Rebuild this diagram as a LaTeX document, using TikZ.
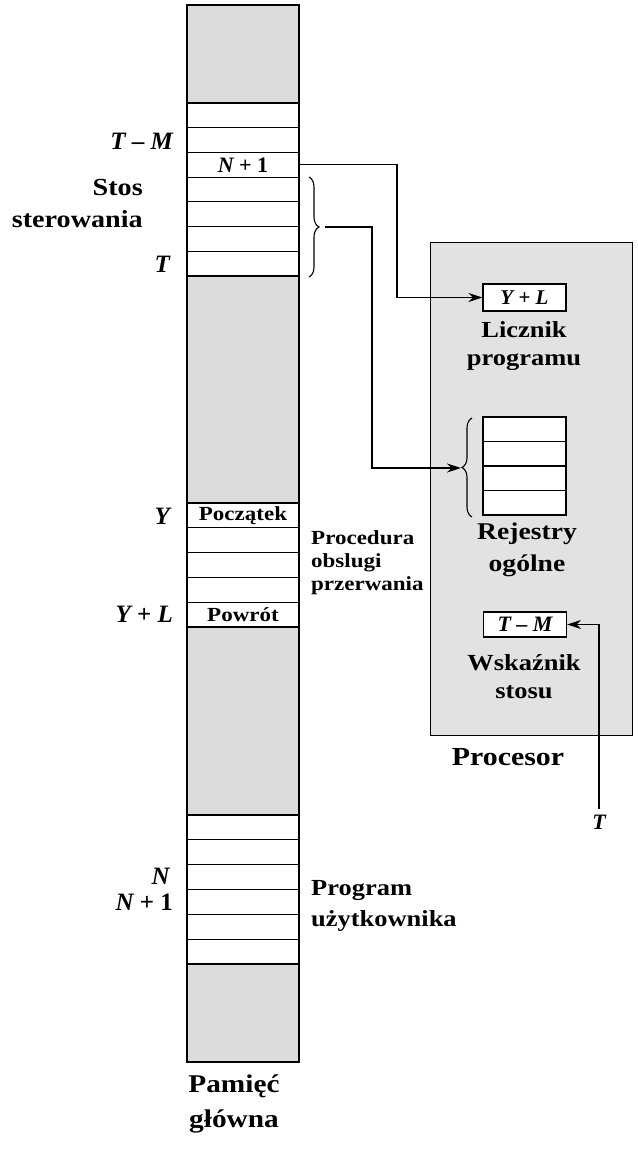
\documentclass[tikz,border=0pt]{standalone}
\usepackage{fontspec}
\setmainfont{Liberation Serif}
\newfontfamily\lab{Liberation Serif}[FakeStretch=1.15]
\usetikzlibrary{arrows.meta,decorations.pathreplacing}
\definecolor{memgray}{HTML}{DCDCDC}
\definecolor{cpugray}{HTML}{E2E2E2}
\newcommand{\fsz}[2]{\fontsize{#1}{#2}\selectfont}
\newcommand{\mv}[1]{{\itshape #1}}
\tikzset{
  cell/.style={draw, fill=white, minimum width=112pt, minimum height=24.7pt, inner sep=0pt, line width=1.2pt},
  reg/.style={draw, fill=white, minimum width=83pt, inner sep=0pt, line width=1.2pt},
  biglab/.style={font=\lab\bfseries\fsz{23}{28}, align=center, inner sep=0pt},
  smalllab/.style={font=\lab\bfseries\fsz{20}{23}, inner sep=0pt},
  mathlab/.style={font=\bfseries\fsz{25}{28}, inner sep=0pt},
  arr/.style={line width=1.3pt, -{Stealth[length=14pt,width=9pt]}},
  brc/.style={line width=1.1pt, decorate, decoration={brace, amplitude=10pt}}
}
\begin{document}
\begin{tikzpicture}[x=1pt,y=-1pt]
\useasboundingbox (0,0) rectangle (637,1156);
% memory column
\node[draw, fill=memgray, line width=1.3pt, minimum width=112pt, minimum height=1056pt, inner sep=0pt, anchor=north] (mem) at (243,5) {};
\foreach \k in {1,...,7} \node[cell] (s\k) at (243,{103+24.71*(\k-0.5)}) {};
\foreach \k in {1,...,5} \node[cell, minimum height=24.8pt] (p\k) at (243,{503+24.8*(\k-0.5)}) {};
\foreach \k in {1,...,6} \node[cell, minimum height=24.83pt] (u\k) at (243,{815+24.83*(\k-0.5)}) {};
\draw[line width=1.3pt] (mem.north west) rectangle (mem.south east);
\node[font=\bfseries\fsz{22}{24}, inner sep=0pt] (np1) at (s3.center) {\mv{N} + 1};
\node[smalllab] (pocz) at (p1.center) {Początek};
\node[smalllab] (powr) at (p5.center) {Powrót};
% left labels
\node[mathlab, anchor=east] (ltm) at (173,141) {\mv{T} – \mv{M}};
\node[biglab, font=\lab\bfseries\fsz{24.5}{32}, align=right, anchor=east] (stos) at (143,204) {Stos\\sterowania};
\node[mathlab, anchor=east] (lt) at (170,264) {\mv{T}};
\node[mathlab, anchor=east] (ly) at (170,516) {\mv{Y}};
\node[mathlab, anchor=east] (lyl) at (173,614) {\mv{Y} + \mv{L}};
\node[mathlab, anchor=east] (ln) at (170,876) {\mv{N}};
\node[mathlab, anchor=east] (lnp) at (173,902) {\mv{N} + 1};
% right labels of memory
\node[smalllab, align=left, anchor=west] (proc) at (311,563) {Procedura\\obslugi\\przerwania};
\node[biglab, align=left, anchor=west, font=\lab\bfseries\fsz{23}{31}] (prog) at (311,906) {Program\\użytkownika};
\node[biglab, font=\lab\bfseries\fsz{25.5}{35}] (pam) at (234,1104) {Pamięć\\główna};
% processor
\node[draw, fill=cpugray, line width=1.3pt, minimum width=202pt, minimum height=493pt, inner sep=0pt, anchor=north west] (cpu) at (430,242) {};
\node[reg, minimum height=27pt, font=\bfseries\fsz{21}{24}] (pc) at (524.5,297.5) {\mv{Y} + \mv{L}};
\node[biglab] (licz) at (524,346) {Licznik\\programu};
\foreach \k in {1,...,4} \node[reg, minimum height=24.5pt] (r\k) at (524.5,{417+24.5*(\k-0.5)}) {};
\node[biglab, font=\lab\bfseries\fsz{24}{32}] (rej) at (527,550) {Rejestry\\ogólne};
\node[reg, minimum height=25pt, font=\bfseries\fsz{22}{24}] (sp) at (525,624.5) {\mv{T} – \mv{M}};
\node[biglab] (wsk) at (524,677) {Wskaźnik\\stosu};
\node[biglab, font=\lab\bfseries\fsz{26}{30}] (cpulab) at (508,757) {Procesor};
\node[mathlab, font=\bfseries\fsz{22}{24}] (tb) at (599,822) {\mv{T}};
% braces
\draw[brc] (309,177) -- (309,277);
\coordinate (stacktip) at (325,227);
\draw[brc] (472,517) -- (472,418);
\coordinate (regtip) at (461,468);
% connectors
\coordinate (bend1) at (397,0);
\coordinate (bend2) at (372,0);
\draw[arr] (s3.east) -| (bend1 |- pc.west) -- (pc.west);
\draw[arr] (stacktip) -| (bend2 |- regtip) -- (regtip);
\draw[arr] ([yshift=6pt]tb.north) |- (sp.east);
\end{tikzpicture}
\end{document}
